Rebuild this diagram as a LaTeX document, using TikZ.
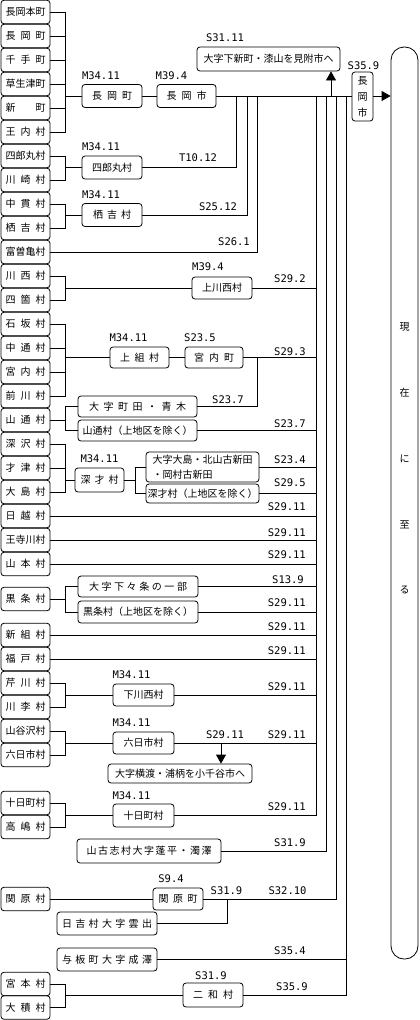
\documentclass[tikz,border=0pt]{standalone}
\usepackage{fontspec}
\newfontfamily\jp{Noto Sans CJK JP}
\newfontfamily\dm{DejaVu Sans Mono}
\usetikzlibrary{arrows.meta}
\newcommand\jpf{\jp\fontsize{10}{12}\selectfont}
\newcommand\dtf{\dm\fontsize{10.5}{12}\selectfont}
\newcommand\sx[2]{\makebox[#1][s]{#2}}
\tikzset{
  ln/.style={line width=0.8pt},
  box/.style={draw, ln, rounded corners=3pt, inner sep=0pt, font=\jpf},
  lb/.style={box, minimum width=49pt, minimum height=23.5pt},
  dt/.style={font=\dtf, inner sep=0pt},
  dr/.style={dt, anchor=east},
  arr/.style={ln, -{Triangle[length=9pt,width=10pt]}},
}
\begin{document}
\begin{tikzpicture}[x=1pt,y=-1pt]
\useasboundingbox (0,0) rectangle (420,1020);
% left column
\node[lb] (a1) at (25.5,12) {長岡本町};
\node[lb] (a2) at (25.5,36) {\sx{40pt}{長 岡 町}};
\node[lb] (a3) at (25.5,60) {\sx{40pt}{千 手 町}};
\node[lb] (a4) at (25.5,84) {草生津町};
\node[lb] (a5) at (25.5,108) {\sx{40pt}{新 町}};
\node[lb] (a6) at (25.5,132) {\sx{40pt}{王 内 村}};
\node[lb] (a7) at (25.5,156) {四郎丸村};
\node[lb] (a8) at (25.5,180) {\sx{40pt}{川 崎 村}};
\node[lb] (a9) at (25.5,204) {\sx{40pt}{中 貫 村}};
\node[lb] (a10) at (25.5,228) {\sx{40pt}{栖 吉 村}};
\node[lb] (a11) at (25.5,252) {富曽亀村};
\node[lb] (a12) at (25.5,276) {\sx{40pt}{川 西 村}};
\node[lb] (a13) at (25.5,300) {\sx{40pt}{四 箇 村}};
\node[lb] (a14) at (25.5,324) {\sx{40pt}{石 坂 村}};
\node[lb] (a15) at (25.5,348) {\sx{40pt}{中 通 村}};
\node[lb] (a16) at (25.5,372) {\sx{40pt}{宮 内 村}};
\node[lb] (a17) at (25.5,396) {\sx{40pt}{前 川 村}};
\node[lb] (a18) at (25.5,420) {\sx{40pt}{山 通 村}};
\node[lb] (a19) at (25.5,444) {\sx{40pt}{深 沢 村}};
\node[lb] (a20) at (25.5,468) {\sx{40pt}{才 津 村}};
\node[lb] (a21) at (25.5,492) {\sx{40pt}{大 島 村}};
\node[lb] (a22) at (25.5,516) {\sx{40pt}{日 越 村}};
\node[lb] (a23) at (25.5,540) {王寺川村};
\node[lb] (a24) at (25.5,564) {\sx{40pt}{山 本 村}};
\node[lb] (a25) at (25.5,599) {\sx{40pt}{黒 条 村}};
\node[lb] (a26) at (25.5,635) {\sx{40pt}{新 組 村}};
\node[lb] (a27) at (25.5,659) {\sx{40pt}{福 戸 村}};
\node[lb] (a28) at (25.5,683) {\sx{40pt}{芹 川 村}};
\node[lb] (a29) at (25.5,707) {\sx{40pt}{川 李 村}};
\node[lb] (a30) at (25.5,731) {山谷沢村};
\node[lb] (a31) at (25.5,755) {六日市村};
\node[lb] (a32) at (25.5,803) {十日町村};
\node[lb] (a33) at (25.5,827) {\sx{40pt}{高 嶋 村}};
\node[lb] (a34) at (25.5,899) {\sx{40pt}{関 原 村}};
\node[lb] (a35) at (25.5,984) {\sx{40pt}{宮 本 村}};
\node[lb] (a36) at (25.5,1007.5) {\sx{40pt}{大 積 村}};
% middle boxes
\node[box, minimum width=60pt, minimum height=23pt] (m1) at (112,96) {\sx{40pt}{長 岡 町}};
\node[box, minimum width=59pt, minimum height=23pt] (m2) at (186.5,96) {\sx{40pt}{長 岡 市}};
\node[box, minimum width=60pt, minimum height=23pt] (m3) at (112,167.5) {四郎丸村};
\node[box, minimum width=60pt, minimum height=23pt] (m4) at (112,215) {\sx{38pt}{栖 吉 村}};
\node[box, minimum width=60pt, minimum height=22pt] (m5) at (222,288) {上川西村};
\node[box, minimum width=59pt, minimum height=21pt] (m6) at (139.5,357.5) {\sx{39pt}{上 組 村}};
\node[box, minimum width=58pt, minimum height=21pt] (m7) at (214,357.5) {\sx{40pt}{宮 内 町}};
\node[box, minimum width=119pt, minimum height=21pt] (m8) at (137.5,406.5) {\sx{97pt}{大 字 町 田 ・ 青 木}};
\node[box, minimum width=119pt, minimum height=21pt] (m9) at (137.5,430.5) {山通村（上地区を除く）};
\node[box, minimum width=49pt, minimum height=24pt] (m10) at (99.5,480) {\sx{38pt}{深 才 村}};
\node[box, minimum width=113pt, minimum height=30pt, align=left, font=\jp\fontsize{10}{15}\selectfont] (m11) at (202.5,467) {大字大島・北山古新田\\・岡村古新田};
\node[box, minimum width=113pt, minimum height=19pt] (m12) at (202.5,493.5) {深才村（上地区を除く）};
\node[box, minimum width=120pt, minimum height=21pt] (m13) at (138,586.5) {\sx{98pt}{大 字 下 々 条 の 一 部}};
\node[box, minimum width=120pt, minimum height=22pt] (m14) at (138,612) {黒条村（上地区を除く）};
\node[box, minimum width=61pt, minimum height=22pt] (m15) at (143.5,695) {下川西村};
\node[box, minimum width=61pt, minimum height=22pt] (m16) at (143.5,743) {六日市村};
\node[box, minimum width=144pt, minimum height=19pt] (m17) at (180,773.5) {大字横渡・浦柄を小千谷市へ};
\node[box, minimum width=61pt, minimum height=23pt] (m18) at (143.5,815.5) {十日町村};
\node[box, minimum width=144pt, minimum height=24pt] (m19) at (149,851) {\sx{125pt}{山 古 志 村 大 字 蓬 平 ・ 濁 澤}};
\node[box, minimum width=50pt, minimum height=22pt] (m20) at (178,899) {\sx{39pt}{関 原 町}};
\node[box, minimum width=100pt, minimum height=23pt] (m21) at (107,923.5) {\sx{90pt}{日 吉 村 大 字 雲 出}};
\node[box, minimum width=100pt, minimum height=23pt] (m22) at (107,959.5) {\sx{90pt}{与 板 町 大 字 成 澤}};
\node[box, minimum width=60pt, minimum height=24pt] (m23) at (213,995) {\sx{40pt}{二 和 村}};
\node[box, minimum width=143pt, minimum height=24pt] (m24) at (268.5,59) {大字下新町・漆山を見附市へ};
\node[box, minimum width=21pt, minimum height=49pt, align=center, font=\jp\fontsize{10}{16}\selectfont] (m25) at (362.5,96.5) {長\\岡\\市};
\node[draw, ln, rounded corners=13pt, minimum width=27pt, minimum height=912pt, inner sep=0pt] (big) at (404.5,503) {};
\node[inner sep=0pt, align=center, font=\jp\fontsize{10}{65.75}\selectfont] (gen) at (404.5,458.5) {現\\在\\に\\至\\る};
% dates
\node[dt] (d1) at (101,76) {M34.11};
\node[dt] (d2) at (171.5,76) {M39.4};
\node[dt] (d3) at (225,38) {S31.11};
\node[dt] (d4) at (363.5,66) {S35.9};
\node[dt] (d5) at (198,158) {T10.12};
\node[dt] (d6) at (101,147) {M34.11};
\node[dt] (d7) at (101,195) {M34.11};
\node[dt] (d8) at (218,207) {S25.12};
\node[dt] (d9) at (234,242) {S26.1};
\node[dt] (d10) at (208,267) {M39.4};
\node[dr] (d11) at (306,279) {S29.2};
\node[dt] (d12) at (128.5,338) {M34.11};
\node[dt] (d13) at (200,338) {S23.5};
\node[dr] (d14) at (306,352) {S29.3};
\node[dt] (d15) at (228,400) {S23.7};
\node[dr] (d16) at (306,424) {S23.7};
\node[dt] (d17) at (99.5,459) {M34.11};
\node[dr] (d18) at (306,460) {S23.4};
\node[dr] (d19) at (306,483) {S29.5};
\node[dr] (d20) at (306,507) {S29.11};
\node[dr] (d21) at (306,533) {S29.11};
\node[dr] (d22) at (306,555) {S29.11};
\node[dr] (d23) at (304,580) {S13.9};
\node[dr] (d24) at (306,603) {S29.11};
\node[dr] (d25) at (306,627) {S29.11};
\node[dr] (d26) at (306,651) {S29.11};
\node[dt] (d27) at (131.5,675) {M34.11};
\node[dr] (d28) at (306,687) {S29.11};
\node[dt] (d29) at (131.5,723) {M34.11};
\node[dt] (d30) at (225,735) {S29.11};
\node[dr] (d31) at (306,735) {S29.11};
\node[dt] (d32) at (131.5,796) {M34.11};
\node[dr] (d33) at (306,807) {S29.11};
\node[dr] (d34) at (306,843) {S31.9};
\node[dt] (d35) at (171,879) {S9.4};
\node[dt] (d36) at (226.5,891) {S31.9};
\node[dt] (d37) at (287.5,891) {S32.10};
\node[dr] (d38) at (306,951) {S35.4};
\node[dt] (d39) at (211,976) {S31.9};
\node[dr] (d40) at (308,987) {S35.9};
% coordinates
\coordinate (B) at (65,0);
\coordinate (J1) at (316,96);
\coordinate (J2) at (326,96);
\coordinate (J3) at (336,96);
\coordinate (J4) at (346,96);
\coordinate (Ju) at (331,96);
\coordinate (X1) at (236,96);
\coordinate (X2) at (247,96);
\coordinate (X3) at (257,96);
\coordinate (Q) at (257,357.5);
\coordinate (F) at (135,480);
\coordinate (D) at (221,743);
\coordinate (K) at (227,899);
% group 1
\draw[ln] (a1.east) -- (a1.east -| B) -- (a6.east -| B) -- (a6.east);
\foreach \n in {a2,a3,a4,a5} \draw[ln] (\n.east) -- (\n.east -| B);
\draw[ln] (m1.west -| B) -- (m1.west);
\draw[ln] (m1.east) -- (m2.west);
\draw[ln] (m2.east) -- (m25.west |- m2.east);
\draw[arr] (m25.east |- m2.east) -- (big.west |- m2.east);
\draw[arr] (Ju) -- (Ju |- m24.south);
% trunks
\draw[ln] (J1) |- (m18.east);
\draw[ln] (J2) |- (m19.east);
\draw[ln] (J3) |- (m20.east);
\draw[ln] (J4) |- (m23.east);
% 四郎丸
\draw[ln] (a7.east) -- (a7.east -| B) -- (a8.east -| B) -- (a8.east);
\draw[ln] (m3.west -| B) -- (m3.west);
\draw[ln] (m3.east) -| (X1);
% 栖吉
\draw[ln] (a9.east) -- (a9.east -| B) -- (a10.east -| B) -- (a10.east);
\draw[ln] (m4.west -| B) -- (m4.west);
\draw[ln] (m4.east) -| (X2);
% 富曽亀
\draw[ln] (a11.east) -| (X3);
% 上川西
\draw[ln] (a12.east) -- (a12.east -| B) -- (a13.east -| B) -- (a13.east);
\draw[ln] (m5.west -| B) -- (m5.west);
\draw[ln] (m5.east) -- (m5.east -| J1);
% 上組
\draw[ln] (a14.east) -- (a14.east -| B) -- (a17.east -| B) -- (a17.east);
\foreach \n in {a15,a16} \draw[ln] (\n.east) -- (\n.east -| B);
\draw[ln] (m6.west -| B) -- (m6.west);
\draw[ln] (m6.east) -- (m7.west);
\draw[ln] (m7.east) -- (m7.east -| J1);
\draw[ln] (m8.east) -| (Q);
% 山通
\draw[ln] (a18.east) -- (a18.east -| B);
\draw[ln] (m8.west) -- (m8.west -| B) -- (m9.west -| B) -- (m9.west);
\draw[ln] (m9.east) -- (m9.east -| J1);
% 深才
\draw[ln] (a19.east) -- (a19.east -| B) -- (a21.east -| B) -- (a21.east);
\draw[ln] (a20.east) -- (a20.east -| B);
\draw[ln] (m10.west -| B) -- (m10.west);
\draw[ln] (m10.east) -- (F);
\draw[ln] (m11.west) -- (F |- m11.west) -- (F |- m12.west) -- (m12.west);
\draw[ln] (m11.east) -- (m11.east -| J1);
\draw[ln] (m12.east) -- (m12.east -| J1);
% direct
\foreach \n in {a22,a23,a24,a26,a27} \draw[ln] (\n.east) -- (\n.east -| J1);
% 黒条
\draw[ln] (a25.east) -- (a25.east -| B);
\draw[ln] (m13.west) -- (m13.west -| B) -- (m14.west -| B) -- (m14.west);
\draw[ln] (m13.east) -- (m13.east -| J1);
\draw[ln] (m14.east) -- (m14.east -| J1);
% 下川西
\draw[ln] (a28.east) -- (a28.east -| B) -- (a29.east -| B) -- (a29.east);
\draw[ln] (m15.west -| B) -- (m15.west);
\draw[ln] (m15.east) -- (m15.east -| J1);
% 六日市
\draw[ln] (a30.east) -- (a30.east -| B) -- (a31.east -| B) -- (a31.east);
\draw[ln] (m16.west -| B) -- (m16.west);
\draw[ln] (m16.east) -- (m16.east -| J1);
\draw[arr] (D) -- (D |- m17.north);
% 十日町
\draw[ln] (a32.east) -- (a32.east -| B) -- (a33.east -| B) -- (a33.east);
\draw[ln] (m18.west -| B) -- (m18.west);
% 関原
\draw[ln] (a34.east) -- (m20.west);
\draw[ln] (m21.east) -| (K);
% 与板
\draw[ln] (m22.east) -- (m22.east -| J4);
% 二和
\draw[ln] (a35.east) -- (a35.east -| B) -- (a36.east -| B) -- (a36.east);
\draw[ln] (m23.west -| B) -- (m23.west);
\end{tikzpicture}
\end{document}
